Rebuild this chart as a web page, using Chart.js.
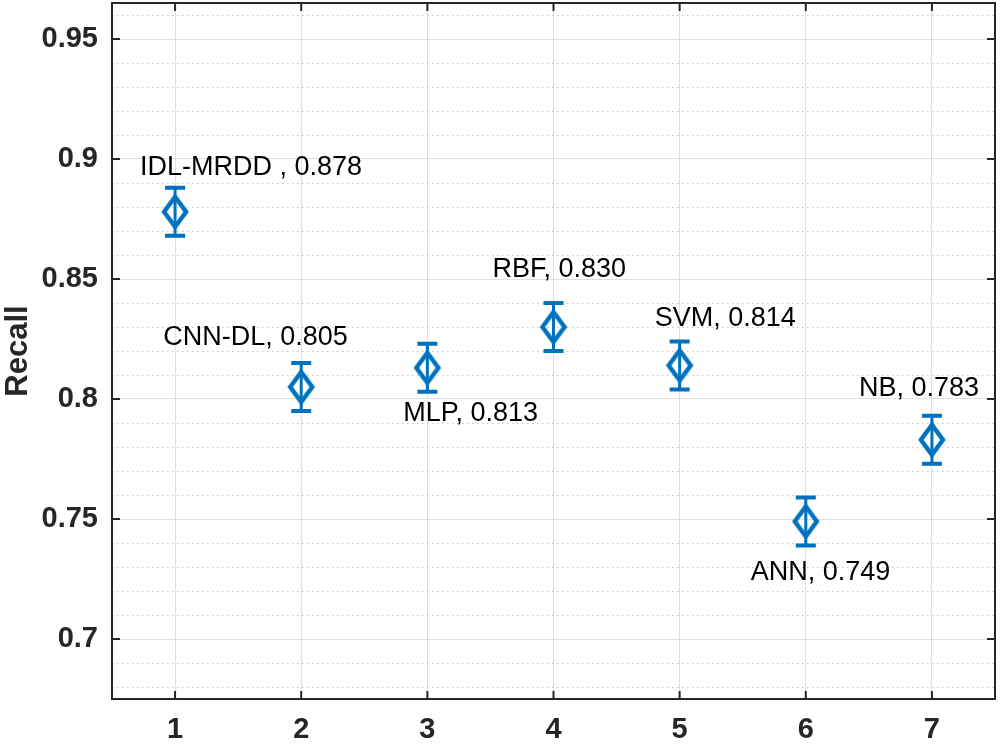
<!DOCTYPE html>
<html>
<head>
<meta charset="utf-8">
<script src="https://cdn.jsdelivr.net/npm/chart.js@4.4.1/dist/chart.umd.min.js"></script>
<style>
  html, body { margin: 0; padding: 0; background: #fff; }
  #wrap { width: 1000px; height: 748px; }
</style>
</head>
<body>
<div id="wrap"><canvas id="recallChart" width="1000" height="748"></canvas></div>
<script>
// data
const xValues = [1, 2, 3, 4, 5, 6, 7];
const methods = ['IDL-MRDD ', 'CNN-DL', 'MLP', 'RBF', 'SVM', 'ANN', 'NB'];
const recall = [0.878, 0.805, 0.813, 0.830, 0.814, 0.749, 0.783];
const errLow = [0.868, 0.795, 0.803, 0.820, 0.804, 0.739, 0.773];
const errHigh = [0.888, 0.815, 0.823, 0.840, 0.824, 0.759, 0.793];
const xTicks = [1, 2, 3, 4, 5, 6, 7];
const yTicks = [0.7, 0.75, 0.8, 0.85, 0.9, 0.95];
const yMinorTicks = [0.68, 0.69, 0.71, 0.72, 0.73, 0.74, 0.76, 0.77, 0.78, 0.79,
  0.81, 0.82, 0.83, 0.84, 0.86, 0.87, 0.88, 0.89, 0.91, 0.92, 0.93, 0.94, 0.96];

// label placement, pixels from the point (left edge, vertical middle)
const labelOffsets = [[-35, -44], [-138, -49], [-24, 46], [-61, -57], [-25, -47], [-55, 51], [-73, -51]];

const blue = '#0072BD';
const frame = '#262626';
const fontFamily = '"Liberation Sans", Arial, sans-serif';

// diamond marker, a bit taller than wide like the matlab one
const diamond = document.createElement('canvas');
diamond.width = 32;
diamond.height = 42;
(function () {
  const c = diamond.getContext('2d');
  c.strokeStyle = blue;
  c.lineWidth = 4.5;
  c.beginPath();
  c.moveTo(16, 6);
  c.lineTo(27, 21);
  c.lineTo(16, 36);
  c.lineTo(5, 21);
  c.closePath();
  c.stroke();
})();

const matlabAxes = {
  id: 'matlabAxes',
  beforeDatasetsDraw(chart) {
    const { ctx, chartArea: a, scales } = chart;
    ctx.save();
    ctx.strokeStyle = '#c4c4c4';
    ctx.lineWidth = 1;
    ctx.setLineDash([1.5, 3.5]);
    yMinorTicks.forEach(v => {
      const y = Math.round(scales.y.getPixelForValue(v)) + 0.5;
      ctx.beginPath();
      ctx.moveTo(a.left, y);
      ctx.lineTo(a.right, y);
      ctx.stroke();
    });
    ctx.restore();
  },
  afterDatasetsDraw(chart) {
    const { ctx, chartArea: a, scales } = chart;
    ctx.save();
    // error bars
    ctx.strokeStyle = blue;
    recall.forEach((v, i) => {
      const x = scales.x.getPixelForValue(xValues[i]);
      const yl = scales.y.getPixelForValue(errLow[i]);
      const yh = scales.y.getPixelForValue(errHigh[i]);
      ctx.lineWidth = 3;
      ctx.beginPath();
      ctx.moveTo(x, yl);
      ctx.lineTo(x, yh);
      ctx.stroke();
      ctx.lineWidth = 4;
      ctx.beginPath();
      ctx.moveTo(x - 10, yl);
      ctx.lineTo(x + 10, yl);
      ctx.moveTo(x - 10, yh);
      ctx.lineTo(x + 10, yh);
      ctx.stroke();
    });
    // text labels
    ctx.fillStyle = '#000';
    ctx.font = '27px ' + fontFamily;
    ctx.textAlign = 'left';
    ctx.textBaseline = 'middle';
    recall.forEach((v, i) => {
      const x = scales.x.getPixelForValue(xValues[i]);
      const y = scales.y.getPixelForValue(v);
      ctx.fillText(methods[i] + ', ' + v.toFixed(3), x + labelOffsets[i][0], y + labelOffsets[i][1]);
    });
    // box and inward ticks
    ctx.strokeStyle = frame;
    ctx.lineWidth = 2;
    ctx.strokeRect(a.left, a.top, a.right - a.left, a.bottom - a.top);
    ctx.beginPath();
    xTicks.forEach(v => {
      const x = scales.x.getPixelForValue(v);
      ctx.moveTo(x, a.bottom);
      ctx.lineTo(x, a.bottom - 8);
      ctx.moveTo(x, a.top);
      ctx.lineTo(x, a.top + 8);
    });
    yTicks.forEach(v => {
      const y = scales.y.getPixelForValue(v);
      ctx.moveTo(a.left, y);
      ctx.lineTo(a.left + 8, y);
      ctx.moveTo(a.right, y);
      ctx.lineTo(a.right - 8, y);
    });
    ctx.stroke();
    ctx.restore();
  }
};

new Chart(document.getElementById('recallChart'), {
  type: 'scatter',
  data: {
    datasets: [{
      label: 'Recall',
      data: xValues.map((x, i) => ({ x: x, y: recall[i] })),
      pointStyle: diamond,
      pointRadius: 12,
      pointHoverRadius: 12,
      showLine: false
    }]
  },
  options: {
    responsive: false,
    animation: false,
    events: [],
    layout: { autoPadding: false, padding: { top: 3, right: 5, left: 0, bottom: 0 } },
    plugins: {
      legend: { display: false },
      tooltip: { enabled: false }
    },
    scales: {
      x: {
        type: 'linear',
        min: 0.5,
        max: 7.5,
        afterBuildTicks: s => { s.ticks = xTicks.map(v => ({ value: v })); },
        afterFit: s => {
          s.height = 49;
          s.paddingLeft = 0;
          s.paddingRight = 0;
        },
        grid: { color: '#dfdfdf', lineWidth: 1, drawTicks: false },
        border: { display: false },
        ticks: {
          padding: 14,
          color: frame,
          font: { family: fontFamily, size: 29, weight: 'bold' },
          callback: v => String(v)
        }
      },
      y: {
        type: 'linear',
        min: 0.675,
        max: 0.965,
        afterBuildTicks: s => { s.ticks = yTicks.map(v => ({ value: v })); },
        afterFit: s => {
          s.width = 112;
          s.paddingTop = 0;
          s.paddingBottom = 0;
        },
        grid: { color: '#dfdfdf', lineWidth: 1, drawTicks: false },
        border: { display: false },
        ticks: {
          padding: 14,
          color: frame,
          font: { family: fontFamily, size: 29, weight: 'bold' },
          callback: v => String(Math.round(v * 100) / 100)
        },
        title: {
          display: true,
          text: 'Recall',
          color: frame,
          padding: { top: 0, bottom: 0 },
          font: { family: fontFamily, size: 31, weight: 'bold' }
        }
      }
    }
  },
  plugins: [matlabAxes]
});
</script>
</body>
</html>
